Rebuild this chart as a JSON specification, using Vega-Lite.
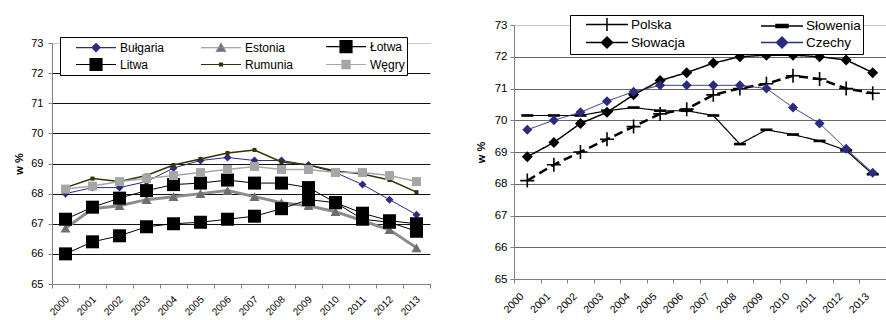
{
  "$schema": "https://vega.github.io/schema/vega-lite/v6.json",
  "background": "white",
  "padding": {"left": 13, "top": 14, "right": 0, "bottom": 0},
  "config": {
    "view": {"stroke": null},
    "font": "Liberation Sans",
    "axis": {
      "labelFont": "Liberation Sans",
      "labelColor": "black",
      "titleFont": "Liberation Sans",
      "titleColor": "black",
      "domainColor": "#808080",
      "tickColor": "#808080",
      "tickSize": 4
    },
    "legend": {"strokeColor": "black", "fillColor": "white", "strokeWidth": 1}
  },
  "datasets": {
    "left": [
      {"s": "Bułgaria", "year": "2000", "v": 68.0}, {"s": "Bułgaria", "year": "2001", "v": 68.2}, {"s": "Bułgaria", "year": "2002", "v": 68.2}, {"s": "Bułgaria", "year": "2003", "v": 68.4}, {"s": "Bułgaria", "year": "2004", "v": 68.85}, {"s": "Bułgaria", "year": "2005", "v": 69.1}, {"s": "Bułgaria", "year": "2006", "v": 69.2}, {"s": "Bułgaria", "year": "2007", "v": 69.1}, {"s": "Bułgaria", "year": "2008", "v": 69.1}, {"s": "Bułgaria", "year": "2009", "v": 68.95}, {"s": "Bułgaria", "year": "2010", "v": 68.7}, {"s": "Bułgaria", "year": "2011", "v": 68.3}, {"s": "Bułgaria", "year": "2012", "v": 67.8}, {"s": "Bułgaria", "year": "2013", "v": 67.3},
      {"s": "Estonia", "year": "2000", "v": 66.85}, {"s": "Estonia", "year": "2001", "v": 67.5}, {"s": "Estonia", "year": "2002", "v": 67.6}, {"s": "Estonia", "year": "2003", "v": 67.8}, {"s": "Estonia", "year": "2004", "v": 67.9}, {"s": "Estonia", "year": "2005", "v": 68.0}, {"s": "Estonia", "year": "2006", "v": 68.1}, {"s": "Estonia", "year": "2007", "v": 67.9}, {"s": "Estonia", "year": "2008", "v": 67.7}, {"s": "Estonia", "year": "2009", "v": 67.6}, {"s": "Estonia", "year": "2010", "v": 67.4}, {"s": "Estonia", "year": "2011", "v": 67.1}, {"s": "Estonia", "year": "2012", "v": 66.8}, {"s": "Estonia", "year": "2013", "v": 66.2},
      {"s": "Łotwa", "year": "2000", "v": 66.0}, {"s": "Łotwa", "year": "2001", "v": 66.4}, {"s": "Łotwa", "year": "2002", "v": 66.6}, {"s": "Łotwa", "year": "2003", "v": 66.9}, {"s": "Łotwa", "year": "2004", "v": 67.0}, {"s": "Łotwa", "year": "2005", "v": 67.05}, {"s": "Łotwa", "year": "2006", "v": 67.15}, {"s": "Łotwa", "year": "2007", "v": 67.25}, {"s": "Łotwa", "year": "2008", "v": 67.5}, {"s": "Łotwa", "year": "2009", "v": 67.8}, {"s": "Łotwa", "year": "2010", "v": 67.7}, {"s": "Łotwa", "year": "2011", "v": 67.15}, {"s": "Łotwa", "year": "2012", "v": 67.05}, {"s": "Łotwa", "year": "2013", "v": 66.75},
      {"s": "Litwa", "year": "2000", "v": 67.15}, {"s": "Litwa", "year": "2001", "v": 67.55}, {"s": "Litwa", "year": "2002", "v": 67.85}, {"s": "Litwa", "year": "2003", "v": 68.1}, {"s": "Litwa", "year": "2004", "v": 68.3}, {"s": "Litwa", "year": "2005", "v": 68.35}, {"s": "Litwa", "year": "2006", "v": 68.45}, {"s": "Litwa", "year": "2007", "v": 68.35}, {"s": "Litwa", "year": "2008", "v": 68.35}, {"s": "Litwa", "year": "2009", "v": 68.2}, {"s": "Litwa", "year": "2010", "v": 67.7}, {"s": "Litwa", "year": "2011", "v": 67.35}, {"s": "Litwa", "year": "2012", "v": 67.1}, {"s": "Litwa", "year": "2013", "v": 67.0},
      {"s": "Rumunia", "year": "2000", "v": 68.2}, {"s": "Rumunia", "year": "2001", "v": 68.5}, {"s": "Rumunia", "year": "2002", "v": 68.4}, {"s": "Rumunia", "year": "2003", "v": 68.6}, {"s": "Rumunia", "year": "2004", "v": 68.95}, {"s": "Rumunia", "year": "2005", "v": 69.15}, {"s": "Rumunia", "year": "2006", "v": 69.35}, {"s": "Rumunia", "year": "2007", "v": 69.45}, {"s": "Rumunia", "year": "2008", "v": 69.05}, {"s": "Rumunia", "year": "2009", "v": 68.95}, {"s": "Rumunia", "year": "2010", "v": 68.75}, {"s": "Rumunia", "year": "2011", "v": 68.65}, {"s": "Rumunia", "year": "2012", "v": 68.45}, {"s": "Rumunia", "year": "2013", "v": 68.05},
      {"s": "Węgry", "year": "2000", "v": 68.15}, {"s": "Węgry", "year": "2001", "v": 68.25}, {"s": "Węgry", "year": "2002", "v": 68.4}, {"s": "Węgry", "year": "2003", "v": 68.5}, {"s": "Węgry", "year": "2004", "v": 68.6}, {"s": "Węgry", "year": "2005", "v": 68.7}, {"s": "Węgry", "year": "2006", "v": 68.8}, {"s": "Węgry", "year": "2007", "v": 68.9}, {"s": "Węgry", "year": "2008", "v": 68.8}, {"s": "Węgry", "year": "2009", "v": 68.8}, {"s": "Węgry", "year": "2010", "v": 68.7}, {"s": "Węgry", "year": "2011", "v": 68.7}, {"s": "Węgry", "year": "2012", "v": 68.6}, {"s": "Węgry", "year": "2013", "v": 68.4}
    ],
    "right": [
      {"s": "Polska", "year": "2000", "v": 68.1}, {"s": "Polska", "year": "2001", "v": 68.6}, {"s": "Polska", "year": "2002", "v": 69.0}, {"s": "Polska", "year": "2003", "v": 69.4}, {"s": "Polska", "year": "2004", "v": 69.8}, {"s": "Polska", "year": "2005", "v": 70.2}, {"s": "Polska", "year": "2006", "v": 70.35}, {"s": "Polska", "year": "2007", "v": 70.8}, {"s": "Polska", "year": "2008", "v": 71.0}, {"s": "Polska", "year": "2009", "v": 71.15}, {"s": "Polska", "year": "2010", "v": 71.4}, {"s": "Polska", "year": "2011", "v": 71.3}, {"s": "Polska", "year": "2012", "v": 71.0}, {"s": "Polska", "year": "2013", "v": 70.85},
      {"s": "Słowenia", "year": "2000", "v": 70.15}, {"s": "Słowenia", "year": "2001", "v": 70.15}, {"s": "Słowenia", "year": "2002", "v": 70.15}, {"s": "Słowenia", "year": "2003", "v": 70.3}, {"s": "Słowenia", "year": "2004", "v": 70.4}, {"s": "Słowenia", "year": "2005", "v": 70.3}, {"s": "Słowenia", "year": "2006", "v": 70.3}, {"s": "Słowenia", "year": "2007", "v": 70.15}, {"s": "Słowenia", "year": "2008", "v": 69.25}, {"s": "Słowenia", "year": "2009", "v": 69.7}, {"s": "Słowenia", "year": "2010", "v": 69.55}, {"s": "Słowenia", "year": "2011", "v": 69.35}, {"s": "Słowenia", "year": "2012", "v": 69.05}, {"s": "Słowenia", "year": "2013", "v": 68.3},
      {"s": "Słowacja", "year": "2000", "v": 68.85}, {"s": "Słowacja", "year": "2001", "v": 69.3}, {"s": "Słowacja", "year": "2002", "v": 69.9}, {"s": "Słowacja", "year": "2003", "v": 70.25}, {"s": "Słowacja", "year": "2004", "v": 70.8}, {"s": "Słowacja", "year": "2005", "v": 71.25}, {"s": "Słowacja", "year": "2006", "v": 71.5}, {"s": "Słowacja", "year": "2007", "v": 71.8}, {"s": "Słowacja", "year": "2008", "v": 72.0}, {"s": "Słowacja", "year": "2009", "v": 72.05}, {"s": "Słowacja", "year": "2010", "v": 72.05}, {"s": "Słowacja", "year": "2011", "v": 72.0}, {"s": "Słowacja", "year": "2012", "v": 71.9}, {"s": "Słowacja", "year": "2013", "v": 71.5},
      {"s": "Czechy", "year": "2000", "v": 69.7}, {"s": "Czechy", "year": "2001", "v": 70.0}, {"s": "Czechy", "year": "2002", "v": 70.25}, {"s": "Czechy", "year": "2003", "v": 70.6}, {"s": "Czechy", "year": "2004", "v": 70.9}, {"s": "Czechy", "year": "2005", "v": 71.1}, {"s": "Czechy", "year": "2006", "v": 71.1}, {"s": "Czechy", "year": "2007", "v": 71.1}, {"s": "Czechy", "year": "2008", "v": 71.1}, {"s": "Czechy", "year": "2009", "v": 71.0}, {"s": "Czechy", "year": "2010", "v": 70.4}, {"s": "Czechy", "year": "2011", "v": 69.9}, {"s": "Czechy", "year": "2012", "v": 69.1}, {"s": "Czechy", "year": "2013", "v": 68.35}
    ]
  },
  "bounds": "flush",
  "spacing": 84,
  "resolve": {
    "scale": {"x": "independent", "y": "independent", "fill": "independent", "stroke": "independent", "shape": "independent"},
    "legend": {"fill": "independent", "stroke": "independent", "shape": "independent"}
  },
  "hconcat": [
    {
      "width": 378,
      "height": 259,
      "data": {"name": "left"},
      "encoding": {
        "x": {
          "field": "year", "type": "ordinal", "bandPosition": 0.5,
          "scale": {"type": "band", "paddingInner": 0, "paddingOuter": 0},
          "axis": {"title": null, "labelAngle": -45, "labelFontSize": 10, "labelOffset": -2, "labelPadding": 6, "tickBand": "extent", "grid": false}
        },
        "y": {
          "field": "v", "type": "quantitative",
          "scale": {"domain": [65, 73], "range": [259, 18], "zero": false, "nice": false},
          "axis": {
            "title": "w %", "titleFontWeight": "bold", "titleFontSize": 11, "titlePadding": 6,
            "values": [65, 66, 67, 68, 69, 70, 71, 72, 73], "labelFontSize": 11, "labelPadding": 5,
            "grid": true,
            "gridColor": {"condition": {"test": "datum.value === 73", "value": "#c8c8c8"}, "value": "#111111"}
          }
        }
      },
      "layer": [
        {
          "mark": {"type": "line"},
          "encoding": {
            "detail": {"field": "s", "type": "nominal"},
            "stroke": {
              "condition": [
                {"test": "datum.s === 'Bułgaria'", "value": "#2b2b7f"},
                {"test": "datum.s === 'Estonia'", "value": "#8c8c8c"},
                {"test": "datum.s === 'Rumunia'", "value": "#333300"},
                {"test": "datum.s === 'Węgry'", "value": "#a6a6a6"}
              ],
              "value": "#000000"
            },
            "strokeWidth": {
              "condition": [
                {"test": "datum.s === 'Estonia'", "value": 3},
                {"test": "datum.s === 'Rumunia' || datum.s === 'Węgry'", "value": 1.5}
              ],
              "value": 1
            }
          }
        },
        {
          "mark": {"type": "point", "filled": true, "opacity": 1},
          "encoding": {
            "color": {
              "condition": [
                {"test": "datum.s === 'Bułgaria'", "value": "#2b2b7f"},
                {"test": "datum.s === 'Estonia'", "value": "#6e6e6e"},
                {"test": "datum.s === 'Rumunia'", "value": "#333300"},
                {"test": "datum.s === 'Węgry'", "value": "#a6a6a6"}
              ],
              "value": "#000000"
            },
            "shape": {
              "condition": [
                {"test": "datum.s === 'Bułgaria'", "value": "diamond"},
                {"test": "datum.s === 'Estonia'", "value": "triangle-up"}
              ],
              "value": "square"
            },
            "size": {
              "condition": [
                {"test": "datum.s === 'Bułgaria'", "value": 64},
                {"test": "datum.s === 'Estonia'", "value": 100},
                {"test": "datum.s === 'Rumunia'", "value": 16},
                {"test": "datum.s === 'Węgry'", "value": 81}
              ],
              "value": 169
            }
          }
        },
        {
          "transform": [{"filter": "false"}],
          "mark": {"type": "point", "filled": true, "opacity": 1},
          "encoding": {
            "fill": {
              "field": "s", "type": "nominal",
              "scale": {"domain": ["Bułgaria", "Estonia", "Łotwa", "Litwa", "Rumunia", "Węgry"], "range": ["#2b2b7f", "#6e6e6e", "#000000", "#000000", "#333300", "#a6a6a6"]},
              "legend": {
                "title": null, "orient": "none", "legendX": 8, "legendY": 12, "columns": 3, "direction": "horizontal", "gridAlign": "all",
                "symbolSize": 169, "symbolFillColor": "black", "symbolStrokeColor": "black", "symbolStrokeWidth": 1.2, "labelFont": "Liberation Sans", "labelFontSize": 12, "labelColor": "black", "labelOffset": 43,
                "rowPadding": 1, "columnPadding": 16, "padding": 2, "strokeColor": "black", "fillColor": "white"
              }
            },
            "stroke": {
              "field": "s", "type": "nominal",
              "scale": {"domain": ["Bułgaria", "Estonia", "Łotwa", "Litwa", "Rumunia", "Węgry"], "range": ["#2b2b7f", "#8c8c8c", "#000000", "#000000", "#333300", "#a6a6a6"]},
              "legend": {
                "title": null, "orient": "none", "legendX": 8, "legendY": 12, "columns": 3, "direction": "horizontal", "gridAlign": "all",
                "symbolSize": 169, "symbolFillColor": "black", "symbolStrokeColor": "black", "symbolStrokeWidth": 1.2, "labelFont": "Liberation Sans", "labelFontSize": 12, "labelColor": "black", "labelOffset": 43,
                "rowPadding": 1, "columnPadding": 16, "padding": 2, "strokeColor": "black", "fillColor": "white"
              }
            },
            "shape": {
              "field": "s", "type": "nominal",
              "scale": {"domain": ["Bułgaria", "Estonia", "Łotwa", "Litwa", "Rumunia", "Węgry"], "range": [
                "M-1,0M1,0H7.15M4.08,-0.62L4.7,0L4.08,0.62L3.46,0Z",
                "M-1,0M1,0H7.15M4.08,-0.7L4.78,0.55L3.38,0.55Z",
                "M-1,0M1,0H7.15M3.16,-0.92H5V0.92H3.16Z",
                "M-1,0M1,0H7.15M3.16,-0.92H5V0.92H3.16Z",
                "M-1,0M1,0H7.15M3.85,-0.23H4.31V0.23H3.85Z",
                "M-1,0M1,0H7.15M3.46,-0.62H4.7V0.62H3.46Z"
              ]},
              "legend": {
                "title": null, "orient": "none", "legendX": 8, "legendY": 12, "columns": 3, "direction": "horizontal", "gridAlign": "all",
                "symbolSize": 169, "symbolFillColor": "black", "symbolStrokeColor": "black", "symbolStrokeWidth": 1.2, "labelFont": "Liberation Sans", "labelFontSize": 12, "labelColor": "black", "labelOffset": 43,
                "rowPadding": 1, "columnPadding": 16, "padding": 2, "strokeColor": "black", "fillColor": "white"
              }
            }
          }
        }
      ]
    },
    {
      "width": 372,
      "height": 254,
      "data": {"name": "right"},
      "encoding": {
        "x": {
          "field": "year", "type": "ordinal", "bandPosition": 0.5,
          "scale": {"type": "band", "paddingInner": 0, "paddingOuter": 0},
          "axis": {"title": null, "labelAngle": -45, "labelFontSize": 10.5, "labelOffset": -9, "labelPadding": 8, "tickBand": "extent", "grid": false}
        },
        "y": {
          "field": "v", "type": "quantitative",
          "scale": {"domain": [65, 73], "zero": false, "nice": false},
          "axis": {
            "title": "w %", "titleFontWeight": "bold", "titleFontSize": 11, "titlePadding": 8,
            "values": [65, 66, 67, 68, 69, 70, 71, 72, 73], "labelFontSize": 11.5, "labelPadding": 3,
            "grid": true,
            "gridColor": {"condition": {"test": "datum.value === 73", "value": "#c8c8c8"}, "value": "#666666"}
          }
        }
      },
      "layer": [
        {
          "mark": {"type": "line"},
          "encoding": {
            "detail": {"field": "s", "type": "nominal"},
            "stroke": {
              "condition": {"test": "datum.s === 'Czechy'", "value": "#2b2b7f"},
              "value": "#000000"
            },
            "strokeWidth": {
              "condition": [
                {"test": "datum.s === 'Polska'", "value": 2.5},
                {"test": "datum.s === 'Słowacja'", "value": 1.5},
                {"test": "datum.s === 'Słowenia'", "value": 1.2}
              ],
              "value": 1
            },
            "strokeDash": {
              "condition": {"test": "datum.s === 'Polska'", "value": [9, 5]},
              "value": [1, 0]
            }
          }
        },
        {
          "mark": {"type": "point", "filled": true, "opacity": 1, "stroke": "black"},
          "encoding": {
            "color": {
              "condition": {"test": "datum.s === 'Czechy'", "value": "#2b2b7f"},
              "value": "#000000"
            },
            "shape": {
              "condition": [
                {"test": "datum.s === 'Polska'", "value": "M-1,0H1M0,-1V1"},
                {"test": "datum.s === 'Słowenia'", "value": "M-1,-0.22H1V0.22H-1Z"}
              ],
              "value": "diamond"
            },
            "size": {
              "condition": [
                {"test": "datum.s === 'Polska'", "value": 196},
                {"test": "datum.s === 'Słowenia'", "value": 144},
                {"test": "datum.s === 'Słowacja'", "value": 121}
              ],
              "value": 100
            },
            "strokeWidth": {
              "condition": {"test": "datum.s === 'Polska'", "value": 1.6},
              "value": 0
            }
          }
        },
        {
          "transform": [{"filter": "false"}],
          "mark": {"type": "point", "filled": true, "opacity": 1},
          "encoding": {
            "fill": {
              "field": "s", "type": "nominal",
              "scale": {"domain": ["Polska", "Słowenia", "Słowacja", "Czechy"], "range": ["#000000", "#000000", "#000000", "#2b2b7f"]},
              "legend": {
                "title": null, "orient": "none", "legendX": 56, "legendY": -10, "columns": 2, "direction": "horizontal", "gridAlign": "all",
                "symbolSize": 169, "symbolFillColor": "black", "symbolStrokeColor": "black", "symbolStrokeWidth": 1.5, "labelFont": "Liberation Sans", "labelFontSize": 13.5, "labelColor": "black", "labelOffset": 44,
                "rowPadding": -1, "columnPadding": 59, "padding": 2, "strokeColor": "black", "fillColor": "white"
              }
            },
            "stroke": {
              "field": "s", "type": "nominal",
              "scale": {"domain": ["Polska", "Słowenia", "Słowacja", "Czechy"], "range": ["#000000", "#000000", "#000000", "#2b2b7f"]},
              "legend": {
                "title": null, "orient": "none", "legendX": 56, "legendY": -10, "columns": 2, "direction": "horizontal", "gridAlign": "all",
                "symbolSize": 169, "symbolFillColor": "black", "symbolStrokeColor": "black", "symbolStrokeWidth": 1.5, "labelFont": "Liberation Sans", "labelFontSize": 13.5, "labelColor": "black", "labelOffset": 44,
                "rowPadding": -1, "columnPadding": 59, "padding": 2, "strokeColor": "black", "fillColor": "white"
              }
            },
            "shape": {
              "field": "s", "type": "nominal",
              "scale": {"domain": ["Polska", "Słowenia", "Słowacja", "Czechy"], "range": [
                "M-1,0M1,0H7.46M4.23,-1V1",
                "M-1,0M1,0H7.46M3.31,-0.23H5.15V0.23H3.31Z",
                "M-1,0M1,0H7.46M4.23,-0.85L5.08,0L4.23,0.85L3.38,0Z",
                "M-1,0M1,0H7.46M4.23,-0.85L5.08,0L4.23,0.85L3.38,0Z"
              ]},
              "legend": {
                "title": null, "orient": "none", "legendX": 56, "legendY": -10, "columns": 2, "direction": "horizontal", "gridAlign": "all",
                "symbolSize": 169, "symbolFillColor": "black", "symbolStrokeColor": "black", "symbolStrokeWidth": 1.5, "labelFont": "Liberation Sans", "labelFontSize": 13.5, "labelColor": "black", "labelOffset": 44,
                "rowPadding": -1, "columnPadding": 59, "padding": 2, "strokeColor": "black", "fillColor": "white"
              }
            }
          }
        }
      ]
    }
  ]
}
